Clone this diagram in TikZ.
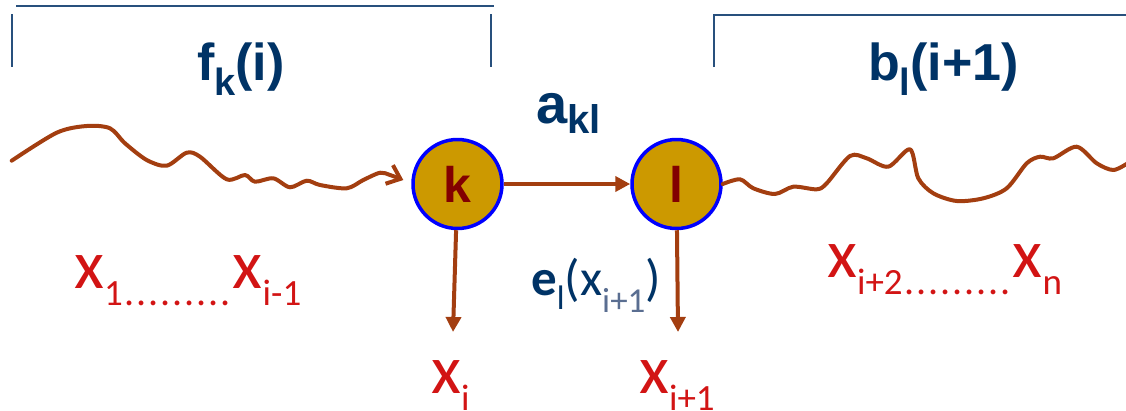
\documentclass[tikz,border=0pt]{standalone}
\usepackage{fontspec}
\setmainfont{Liberation Sans}
\newfontfamily\calib{Carlito}
\usetikzlibrary{arrows.meta}
\definecolor{brn}{RGB}{163,62,16}
\definecolor{gold}{RGB}{204,153,0}
\definecolor{navy}{RGB}{0,51,102}
\definecolor{brk}{RGB}{40,80,125}
\definecolor{redx}{RGB}{210,20,20}
\definecolor{dred}{RGB}{130,0,0}
\definecolor{greyblue}{RGB}{90,110,145}
\newcommand\sbx[3]{\raisebox{-#2pt}{\fontsize{#1}{#1}\selectfont #3}}
\newcommand\redx[1]{x\sbx{37}{17}{#1}}
\newcommand\dotrow{\sbx{40}{17}{\hbox to 110pt{\hfil.\hfil.\hfil.\hfil.\hfil.\hfil.\hfil.\hfil.\hfil.\hfil}}}
\begin{document}
\begin{tikzpicture}[x=1pt,y=-1pt,
  bracketline/.style={draw=brk,line width=2pt},
  state/.style={circle,draw=blue,line width=3.5pt,fill=gold,minimum size=89pt,inner sep=0pt,
    text=dred,font=\fontsize{50}{50}\selectfont\bfseries},
  conn/.style={draw=brn,line width=4pt,-{Triangle[length=15pt,width=15pt]}},
  wave/.style={draw=brn,line width=4pt,line join=round,line cap=round},
  bluelbl/.style={inner sep=0pt,anchor=base west,text=navy,font=\fontsize{52}{52}\selectfont\bfseries},
  redlbl/.style={inner sep=0pt,anchor=base west,text=redx,font=\calib\fontsize{69}{69}\selectfont},
]
\useasboundingbox (0,0) rectangle (1126,410);
% brackets
\draw[bracketline] (16,6) -- (494,6);
\draw[bracketline] (11.7,14) -- (11.7,67);
\draw[bracketline] (491,14) -- (491,67);
\draw[bracketline] (714,67) -- (714,15) -- (1128,15);
% labels
\node[bluelbl] (fk) at (197,80) {f\sbx{38}{15}{k}(i)};
\node[bluelbl] (bl) at (868,80) {b\sbx{38}{15}{l}(i+1)};
\node[bluelbl,font=\fontsize{56}{56}\selectfont\bfseries] (akl) at (536,123) {a\sbx{40}{10}{kl}};
% states
\node[state] (k) at (457.5,184) {k};
\node[state] (l) at (676.5,184) {l};
\draw[conn] (k) -- (l);
% emission arrows
\coordinate (ti) at (453,332);
\coordinate (tl) at (678,332);
\draw[conn] (k) -- (ti);
\draw[conn] (l) -- (tl);
\node[inner sep=0pt,anchor=base west,text=navy,font=\calib\fontsize{51}{51}\selectfont] (el) at (531,295)
  {\textbf{e}\sbx{34}{14}{l}(x\sbx{35}{17}{\color{greyblue}i+1})};
% wavy lines
\coordinate (ws) at (11.7,160.7);
\coordinate (wt) at (403.3,180);
\draw[wave,-{Straight Barb[length=12pt,width=20pt,line width=4pt]}] plot[smooth,tension=0.5] coordinates {
 (ws) (56.7,132.7) (86.7,126) (110,128.3) (125,143.3) (146.7,160) (166.7,165.7) (186.7,152.7)
 (200,156.7) (226.7,179.3) (245,175) (255,181.7) (273.3,178.3) (290,187.3) (306.7,180.7)
 (320,185) (346.7,188.3) (363.3,180) (380,172.7) (390,175) (wt)};
\coordinate (rs) at (l.east);
\coordinate (re) at (1128,163);
\draw[wave] plot[smooth,tension=0.5] coordinates {
 (rs) (740,179.3) (753.3,188.3) (775,194) (793.3,186.7) (816.7,189.3) (826.7,183.3)
 (850,156) (866.7,158.3) (888.3,166.7) (910,149.3) (918.3,178.3) (933.3,193.3) (956.7,201)
 (983.3,198.3) (1006.7,188.3) (1026.7,163.3) (1040,156.7) (1053.3,158.3) (1076.7,146.7)
 (1096.7,163.3) (1113.3,170) (re)};
% observations
\node[redlbl] (x1) at (74,288) {\redx{1}\dotrow\redx{i-1}};
\node[redlbl] (xr) at (827,277) {\redx{i+2}\dotrow\redx{n}};
\node[redlbl] (xi) at (431,393) {\redx{i}};
\node[redlbl] (xi1) at (639,393) {\redx{i+1}};
\end{tikzpicture}
\end{document}
